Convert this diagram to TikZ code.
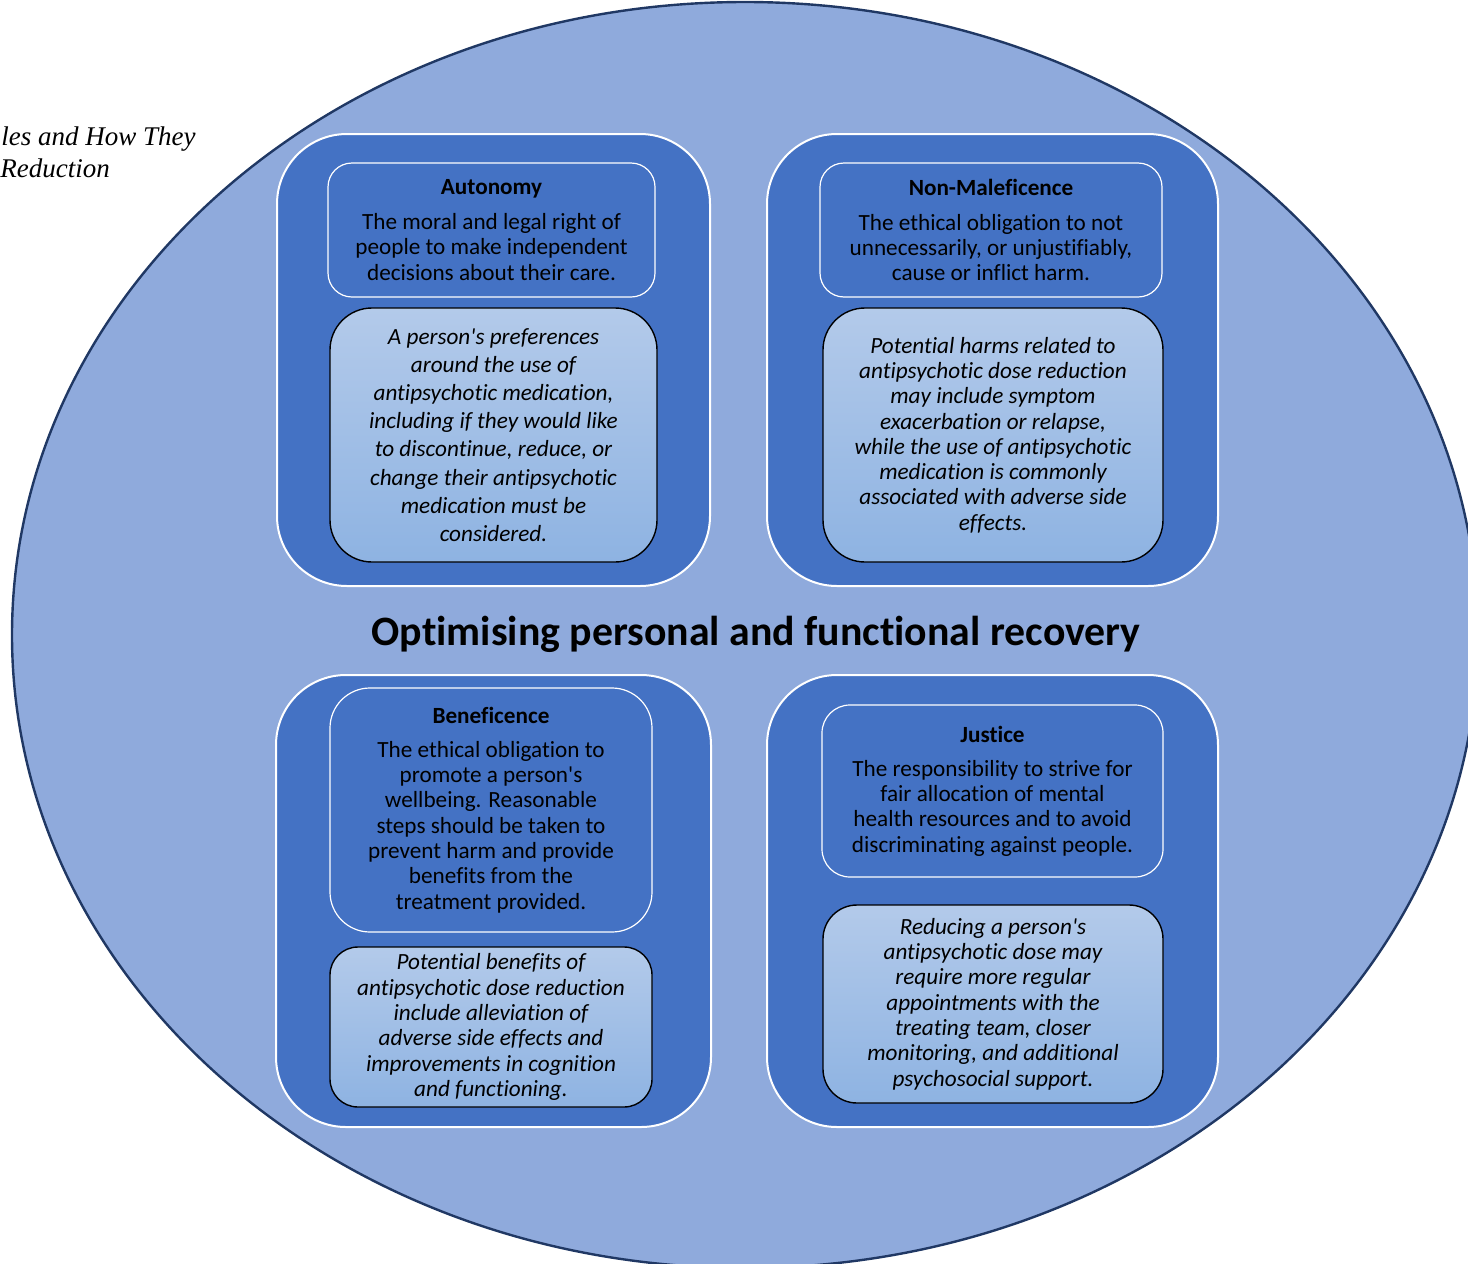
\documentclass[tikz,border=0pt]{standalone}
\usepackage{fontspec}
\setmainfont{Carlito}[Ligatures={NoCommon}]
\newfontfamily\capfont{Liberation Serif}
\definecolor{fieldblue}{HTML}{8FAADC}
\definecolor{rimblue}{HTML}{203864}
\definecolor{tileblue}{HTML}{4472C4}
\definecolor{notetop}{HTML}{B3CAEA}
\definecolor{notebot}{HTML}{8EB3E2}
\tikzset{wh/.style 2 args={minimum width=#1*0.5pt, minimum height=#2*0.5pt},
         field/.style={draw=rimblue, line width=1.2pt, fill=fieldblue},
         tile/.style={draw=white, line width=1pt, fill=tileblue, rounded corners=35pt, inner sep=0pt},
         tenet/.style={draw=white, line width=0.6pt, fill=tileblue, inner sep=0pt, align=center, font=\fontsize{11.6}{12.65}\selectfont},
         note/.style={draw=black, line width=0.7pt, top color=notetop, bottom color=notebot, inner sep=0pt, align=center, font=\itshape\fontsize{11.6}{12.65}\selectfont},
         capline/.style={inner sep=0pt, font=\capfont\itshape\fontsize{13.5}{16}\selectfont},
         headline/.style={inner sep=0pt, font=\bfseries\fontsize{20.9}{25}\selectfont}}

\begin{document}
\begin{tikzpicture}[x=0.5pt, y=-0.5pt]
  \useasboundingbox (0,0) rectangle (1468,1264);
  \clip (0,0) rectangle (1468,1264);
  \draw[field] (745,635) ellipse [x radius=733, y radius=633];
  \node[capline, anchor=base west] (capA) at (1,145) {les and How They};
  \node[capline, anchor=base west] (capB) at (0,177) {Reduction};

  \node[tile, wh={433}{452}] (autoTile) at (493.5,360) {};
  \node[tile, wh={451}{452}] (harmTile) at (992.5,360) {};
  \node[tile, wh={435}{452}] (goodTile) at (493.5,901) {};
  \node[tile, wh={451}{452}] (fairTile) at (992.5,901) {};

  \node[tenet, wh={327}{134}, rounded corners=12pt] (autoTenet) at (491.5,230)
    {\textbf{Autonomy}\\[4.8pt] The moral and legal right of\\ people to make independent\\ decisions about their care.};
  \node[tenet, wh={342}{134}, rounded corners=12pt] (harmTenet) at (991,230)
    {\textbf{Non-Maleficence}\\[4.8pt] The ethical obligation to not\\ unnecessarily, or unjustifiably,\\ cause or inflict harm.};
  \node[tenet, wh={322}{244}, rounded corners=20pt] (goodTenet) at (491,810)
    {\textbf{Beneficence}\\[4.3pt] The ethical obligation to\\ promote a person\textquotesingle s\\ wellbeing. Reasonable\\ steps should be taken to\\ prevent harm and provide\\ benefits from the\\ treatment provided.};
  \node[tenet, wh={341}{172}, rounded corners=14pt] (fairTenet) at (992.5,791)
    {\textbf{Justice}\\[4.3pt] The responsibility to strive for\\ fair allocation of mental\\ health resources and to avoid\\ discriminating against people.};

  \node[note, wh={327}{254}, rounded corners=21pt, font=\itshape\fontsize{11.6}{14.1}\selectfont] (autoNote) at (493.5,435)
    {A person\textquotesingle s preferences\\ around the use of\\ antipsychotic medication,\\ including if they would like\\ to discontinue, reduce, or\\ change their antipsychotic\\ medication must be\\ considered.};
  \node[note, wh={340}{254}, rounded corners=21pt] (harmNote) at (993,435)
    {Potential harms related to\\ antipsychotic dose reduction\\ may include symptom\\ exacerbation or relapse,\\ while the use of antipsychotic\\ medication is commonly\\ associated with adverse side\\ effects.};
  \node[note, wh={322}{160}, rounded corners=14pt] (goodNote) at (491,1027)
    {Potential benefits of\\ antipsychotic dose reduction\\ include alleviation of\\ adverse side effects and\\ improvements in cognition\\ and functioning.};
  \node[note, wh={340}{198}, rounded corners=17pt] (fairNote) at (993,1004)
    {Reducing a person\textquotesingle s\\ antipsychotic dose may\\ require more regular\\ appointments with the\\ treating team, closer\\ monitoring, and additional\\ psychosocial support.};

  \node[headline, anchor=base] (goal) at (756,645) {Optimising personal and functional recovery};
\end{tikzpicture}
\end{document}
